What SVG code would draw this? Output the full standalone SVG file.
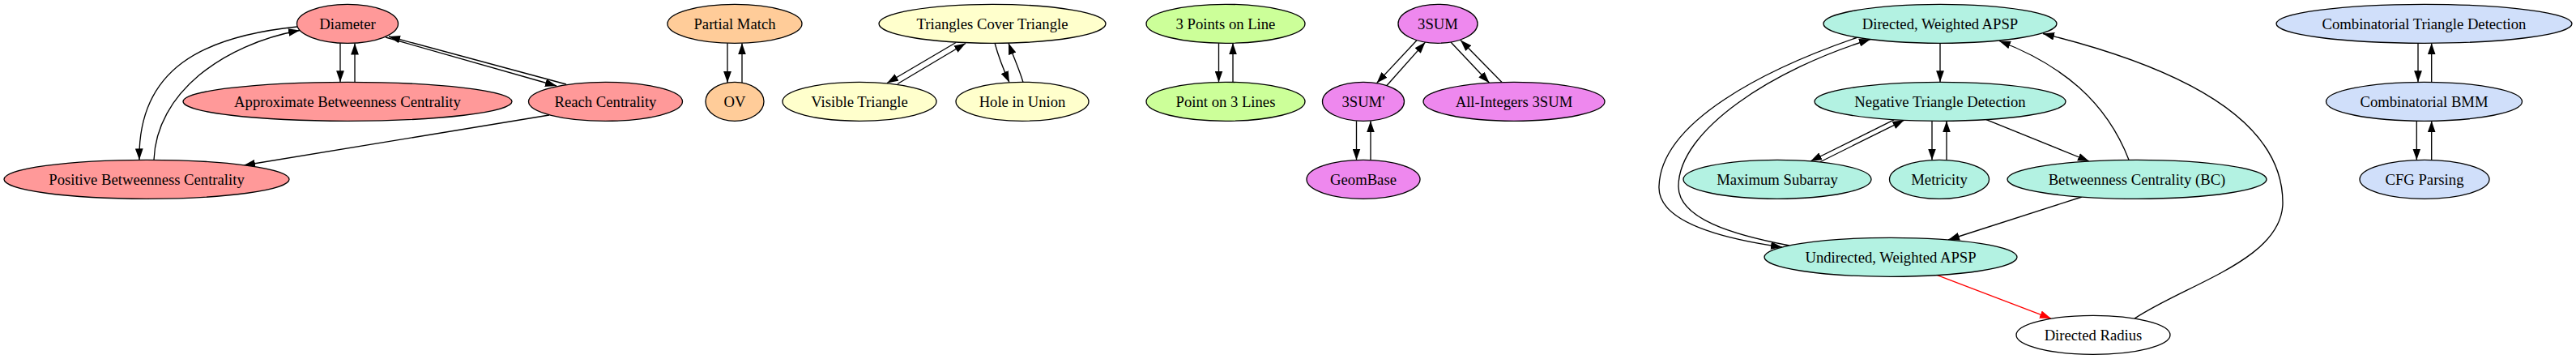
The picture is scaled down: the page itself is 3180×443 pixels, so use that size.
<svg xmlns="http://www.w3.org/2000/svg" width="3180" height="443" viewBox="0 0 3180 443">
<style>
text{font-family:"Liberation Serif","Times New Roman",serif;font-size:18.67px;text-anchor:middle;fill:#000}
ellipse{stroke:#000;stroke-width:1.33}
.pk{fill:#ff9999}.pe{fill:#ffcc99}.ye{fill:#ffffcc}.gr{fill:#ccff99}.vi{fill:#ee88ee}.te{fill:#b3f2e2}.bl{fill:#d0dffa}.wh{fill:#fff}
.e path{fill:none;stroke:#000;stroke-width:1.33;marker-end:url(#ah)}
.e path.red{stroke:#f00;marker-end:url(#ahr)}
</style>
<defs>
<marker id="ah" markerUnits="userSpaceOnUse" markerWidth="14" markerHeight="10" viewBox="0 0 13.33 9.33" refX="13.33" refY="4.67" orient="auto"><path d="M0,0L13.33,4.67L0,9.33Z" fill="#000"/></marker>
<marker id="ahr" markerUnits="userSpaceOnUse" markerWidth="14" markerHeight="10" viewBox="0 0 13.33 9.33" refX="13.33" refY="4.67" orient="auto"><path d="M0,0L13.33,4.67L0,9.33Z" fill="#f00"/></marker>
</defs>
<rect width="3180" height="443" fill="#fff"/>
<g id="edges" class="e">
<path d="M420,53.3L420,101.3"/>
<path d="M438,101.3L438,53.5"/>
<path d="M476,46L687,106"/>
<path d="M699,104L480,45"/>
<path d="M678,142L301,204"/>
<path d="M367,33C250,45 170,85 172,197.3"/>
<path d="M190,197.3C193,115 275,55 370,37.5"/>
<path d="M898,53.3L898,102"/>
<path d="M916,102L916,53.3"/>
<path d="M1180,52.5L1095,102.5"/>
<path d="M1108,103.5L1192,53.5"/>
<path d="M1228,53C1232,68 1238,84 1246,101.8"/>
<path d="M1263,101.5C1258,85 1251,70 1245,53.2"/>
<path d="M1504.5,53.3L1504.5,101.5"/>
<path d="M1522,101.5L1522,53.3"/>
<path d="M1749,49.7L1699.5,102.6"/>
<path d="M1712,105.5L1759.5,52.1"/>
<path d="M1791,52L1838.5,102.2"/>
<path d="M1854,101.5L1803,49.5"/>
<path d="M1674.5,149.3L1674.5,197.5"/>
<path d="M1692,197.5L1692,149.3"/>
<path d="M2395,53.3L2395,101.3"/>
<path d="M2338,147.8L2235,199"/>
<path d="M2246.5,200L2350.5,148.3"/>
<path d="M2385,149.2L2385,197.6"/>
<path d="M2403,197.5L2403,149.3"/>
<path d="M2452,147.6L2579,199"/>
<path d="M2628,197.3C2600,125 2545,80 2468,50.5"/>
<path d="M2570,243L2405,296"/>
<path class="red" d="M2391.6,339.6L2532,393.1"/>
<path d="M2635,393.1C2700,350 2818,320 2818,250C2818,170 2740,95 2522,41.5"/>
<path d="M2292,46.5C2180,85 2050,150 2048,230C2046,275 2130,295 2200,305"/>
<path d="M2209,303C2140,290 2072,270 2072,230C2072,160 2190,85 2309,48.5"/>
<path d="M2985,53.3L2985,101.3"/>
<path d="M3001.7,101.3L3001.7,53.3"/>
<path d="M2983.3,149.3L2983.3,197.5"/>
<path d="M3001.7,197.5L3001.7,149.3"/>
</g>
<g id="n-diameter"><ellipse class="pk" cx="429" cy="29.3" rx="62.5" ry="24"/><text x="429" y="35.5">Diameter</text></g>
<g id="n-approx-bc"><ellipse class="pk" cx="429" cy="125.3" rx="203" ry="24"/><text x="429" y="131.5">Approximate Betweenness Centrality</text></g>
<g id="n-reach"><ellipse class="pk" cx="747.5" cy="125.3" rx="95" ry="24"/><text x="747.5" y="131.5">Reach Centrality</text></g>
<g id="n-pos-bc"><ellipse class="pk" cx="181" cy="221.3" rx="176" ry="24"/><text x="181" y="227.5">Positive Betweenness Centrality</text></g>
<g id="n-partial-match"><ellipse class="pe" cx="907" cy="29.3" rx="83" ry="24"/><text x="907" y="35.5">Partial Match</text></g>
<g id="n-ov"><ellipse class="pe" cx="907" cy="125.3" rx="36" ry="24"/><text x="907" y="131.5">OV</text></g>
<g id="n-tct"><ellipse class="ye" cx="1225" cy="29.3" rx="140" ry="24"/><text x="1225" y="35.5">Triangles Cover Triangle</text></g>
<g id="n-visible"><ellipse class="ye" cx="1061" cy="125.3" rx="95" ry="24"/><text x="1061" y="131.5">Visible Triangle</text></g>
<g id="n-hole"><ellipse class="ye" cx="1262" cy="125.3" rx="82" ry="24"/><text x="1262" y="131.5">Hole in Union</text></g>
<g id="n-3pol"><ellipse class="gr" cx="1513" cy="29.3" rx="98" ry="24"/><text x="1513" y="35.5">3 Points on Line</text></g>
<g id="n-po3l"><ellipse class="gr" cx="1513" cy="125.3" rx="98" ry="24"/><text x="1513" y="131.5">Point on 3 Lines</text></g>
<g id="n-3sum"><ellipse class="vi" cx="1775" cy="29.3" rx="49" ry="24"/><text x="1775" y="35.5">3SUM</text></g>
<g id="n-3sump"><ellipse class="vi" cx="1683" cy="125.3" rx="50.5" ry="24"/><text x="1683" y="131.5">3SUM'</text></g>
<g id="n-ai3sum"><ellipse class="vi" cx="1869" cy="125.3" rx="112" ry="24"/><text x="1869" y="131.5">All-Integers 3SUM</text></g>
<g id="n-geombase"><ellipse class="vi" cx="1683" cy="221.3" rx="70" ry="24"/><text x="1683" y="227.5">GeomBase</text></g>
<g id="n-dwapsp"><ellipse class="te" cx="2395" cy="29.3" rx="144" ry="24"/><text x="2395" y="35.5">Directed, Weighted APSP</text></g>
<g id="n-ntd"><ellipse class="te" cx="2395" cy="125.3" rx="155" ry="24"/><text x="2395" y="131.5">Negative Triangle Detection</text></g>
<g id="n-maxsub"><ellipse class="te" cx="2194" cy="221.3" rx="116" ry="24"/><text x="2194" y="227.5">Maximum Subarray</text></g>
<g id="n-metricity"><ellipse class="te" cx="2394" cy="221.3" rx="61.5" ry="24"/><text x="2394" y="227.5">Metricity</text></g>
<g id="n-bc"><ellipse class="te" cx="2638" cy="221.3" rx="160" ry="24"/><text x="2638" y="227.5">Betweenness Centrality (BC)</text></g>
<g id="n-uwapsp"><ellipse class="te" cx="2334" cy="317.3" rx="156" ry="24"/><text x="2334" y="323.5">Undirected, Weighted APSP</text></g>
<g id="n-dradius"><ellipse class="wh" cx="2584" cy="413.3" rx="95" ry="24"/><text x="2584" y="419.5">Directed Radius</text></g>
<g id="n-ctd"><ellipse class="bl" cx="2992.5" cy="29.3" rx="182.5" ry="24"/><text x="2992.5" y="35.5">Combinatorial Triangle Detection</text></g>
<g id="n-bmm"><ellipse class="bl" cx="2992.5" cy="125.3" rx="121" ry="24"/><text x="2992.5" y="131.5">Combinatorial BMM</text></g>
<g id="n-cfg"><ellipse class="bl" cx="2993" cy="221.3" rx="80" ry="24"/><text x="2993" y="227.5">CFG Parsing</text></g>
</svg>
